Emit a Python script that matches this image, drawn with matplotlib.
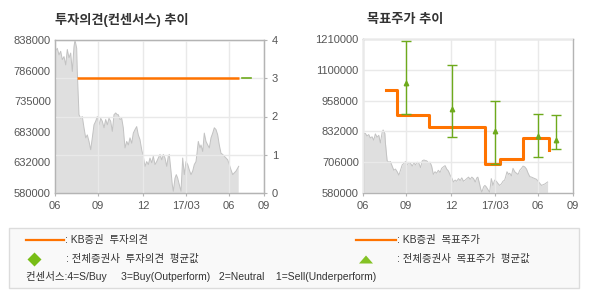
import numpy as np
import matplotlib
matplotlib.use("Agg")
import matplotlib.pyplot as plt
from matplotlib import patches

plt.rcParams["font.family"] = ["Liberation Sans", "Noto Sans CJK KR", "DejaVu Sans"]

# x axis is an index over the trading period (06/2016 .. 09/2017)
x_tick_pos = [0, 43, 88, 131, 174, 209]
x_tick_labels = ["06", "09", "12", "17/03", "06", "09"]

# share price (KRW)
price_x = [0, 2.3, 4, 5.7, 7.3, 9, 10.7, 12.3, 14, 15.7, 17.3, 19, 20, 21.7, 22.3,
           24, 25.7, 27.3, 29, 30.7, 32.3, 34, 35.7, 37.3, 39, 40.7, 42.3, 44, 45.7,
           47.3, 49, 50.7, 52.3, 54, 55.7, 57.3, 59, 60.7, 62.3, 63.3, 65, 66.7, 68.3,
           70, 71.7, 73.3, 75, 76.7, 78.3, 80, 81.7, 83.3, 85, 86.7, 88.3, 90, 91.7,
           93.3, 95, 96.7, 98.3, 100, 101.7, 103.3, 105, 106.7, 108.3, 110, 111.7,
           113.3, 114.3, 116, 117.3, 118.3, 120, 121.3, 122.7, 124.3, 126, 127.7,
           129.3, 131, 132.7, 134.3, 136, 137.7, 139.3, 141, 142, 143.3, 145, 146,
           147.7, 149.3, 151, 152.7, 154.3, 156, 157.7, 159.3, 161, 162.7, 164.3, 166,
           167.7, 169.3, 171, 172.7, 174.3, 176, 177.7, 179.3, 181, 182.7, 183.7]
price_y = [819000, 824000, 813000, 819000, 805000, 810000, 796000, 822000, 808000,
           816000, 785000, 827000, 838000, 824000, 785000, 712000, 706000, 709000,
           690000, 673000, 678000, 667000, 653000, 673000, 695000, 701000, 709000,
           695000, 706000, 701000, 690000, 704000, 695000, 706000, 701000, 684000,
           712000, 715000, 712000, 712000, 704000, 706000, 690000, 656000, 667000,
           661000, 673000, 664000, 681000, 687000, 692000, 678000, 670000, 653000,
           642000, 625000, 633000, 628000, 639000, 631000, 642000, 628000, 633000,
           639000, 645000, 636000, 645000, 639000, 625000, 642000, 645000, 617000,
           594000, 583000, 605000, 611000, 605000, 594000, 583000, 639000, 611000,
           633000, 628000, 619000, 611000, 617000, 628000, 633000, 647000, 667000,
           656000, 661000, 650000, 681000, 667000, 661000, 656000, 673000, 681000,
           690000, 687000, 678000, 661000, 647000, 645000, 642000, 639000, 636000,
           628000, 619000, 611000, 614000, 617000, 622000, 625000]

# KB opinion (consensus scale 1..4)
opinion_x = [22, 184]
opinion_y = [3, 3]
avg_opinion_x = [187, 196]
avg_opinion_y = [3, 3]

# KB target price
target_x = [22.7, 34, 65.4, 121.7, 136.7, 159.4, 185]
target_y = [1000000, 900000, 850000, 700000, 720000, 805000, 755000]

# all brokers target price: mean / high / low
avg_x = [43, 88.4, 131, 174, 192]
avg_mean = [1030000, 923000, 833000, 812000, 796000]
avg_high = [1200000, 1102000, 955000, 904000, 900000]
avg_low = [902000, 808000, 700000, 726000, 758000]

left_ticks = [580000, 632000, 683000, 735000, 786000, 838000]
right_ticks = [580000, 706000, 832000, 958000, 1084000, 1210000]
right_tick_labels = ["580000", "706000", "832000", "958000", "1100000", "1210000"]

ORANGE = "#ff7300"
GREEN = "#6eaa1c"
FILL = "#dfdfdf"
PLINE = "#c2c2c2"
GRID = "#e9e9e9"
SPINE = "#b4b4b4"
TXT = "#555555"


def style_axes(ax):
    for s in ax.spines.values():
        s.set_color(SPINE)
        s.set_linewidth(1.0)
    ax.tick_params(colors=SPINE, labelcolor=TXT, labelsize=8, length=2.5, width=0.8)
    ax.set_xlim(0, 209)
    ax.set_xticks(x_tick_pos)
    ax.set_xticklabels(x_tick_labels)
    ax.tick_params(axis="x", pad=3)


def draw_price(ax):
    ax.fill_between(price_x, price_y, 0, color=FILL, lw=0, zorder=1)
    ax.plot(price_x, price_y, color=PLINE, lw=0.7, zorder=1.2)


fig = plt.figure(figsize=(5.9, 3.0), dpi=100)

# ---- left chart: opinion trend
ax1 = fig.add_axes([55 / 590, 1 - 193 / 300, 209 / 590, 153 / 300])
draw_price(ax1)
style_axes(ax1)
ax1.set_ylim(580000, 838000)
ax1.set_yticks(left_ticks)
ax1.set_yticklabels([str(v) for v in left_ticks])
ax1.tick_params(axis="y", length=0, pad=3)
ax1.set_axisbelow(False)
ax1.grid(axis="x", color=GRID, lw=1.0)

ax1r = ax1.twinx()
ax1r.set_ylim(0, 4)
ax1r.set_yticks([0, 1, 2, 3, 4])
for s in ax1r.spines.values():
    s.set_color(SPINE)
ax1r.tick_params(colors=SPINE, labelcolor=TXT, labelsize=8, length=2.5, width=0.8, pad=3)
ax1r.grid(axis="y", color=GRID, lw=1.0)
ax1r.plot(opinion_x, opinion_y, color=ORANGE, lw=1.8, solid_capstyle="butt", zorder=3)
ax1r.plot(avg_opinion_x, avg_opinion_y, color=GREEN, lw=1.2, zorder=3)

# ---- right chart: target price trend
ax2 = fig.add_axes([363 / 590, 1 - 193 / 300, 210 / 590, 154 / 300])
draw_price(ax2)
style_axes(ax2)
ax2.set_ylim(580000, 1210000)
ax2.set_yticks(right_ticks)
ax2.set_yticklabels(right_tick_labels)
ax2.tick_params(axis="y", length=0, pad=3)
ax2.set_axisbelow(False)
ax2.grid(color=GRID, lw=1.0)
ax2.plot(target_x, target_y, drawstyle="steps-post", color=ORANGE, lw=2.2, zorder=3)
err = [np.array(avg_mean) - np.array(avg_low), np.array(avg_high) - np.array(avg_mean)]
ax2.errorbar(avg_x, avg_mean, yerr=err, fmt="^", color=GREEN, ms=3.2, elinewidth=1.0,
             capsize=3.3, capthick=1.0, zorder=4)

# ---- overlay in pixel coordinates for titles and legend box
ov = fig.add_axes([0, 0, 1, 1], zorder=-1)
ov.set_xlim(0, 590)
ov.set_ylim(300, 0)
ov.axis("off")

ov.text(55, 20, "투자의견(컨센서스) 추이", fontsize=9.5, fontweight="bold", color="#333333",
        va="center", ha="left")
ov.text(367, 20, "목표주가 추이", fontsize=9.5, fontweight="bold", color="#333333",
        va="center", ha="left")

ov.add_patch(patches.Rectangle((9, 228), 570, 60, facecolor="#f9f9f9",
                               edgecolor="#dcdcdc", lw=1.0))
ov.plot([26, 64], [239.5, 239.5], color=ORANGE, lw=1.6)
ov.plot([356, 396], [239.5, 239.5], color=ORANGE, lw=1.6)
ov.plot([34], [259], marker="D", ms=7.2, color="#78bd16", mec="none")
ov.add_patch(patches.Polygon([[359, 263.5], [373, 263.5], [366, 255.5]],
                             closed=True, color="#84c225", lw=0))

LEG = "#333333"
ov.text(65, 240, ": KB증권  투자의견", fontsize=7.5, color=LEG, va="center")
ov.text(66, 259, ": 전체증권사  투자의견  평균값", fontsize=7.5, color=LEG, va="center")
ov.text(397, 240, ": KB증권  목표주가", fontsize=7.5, color=LEG, va="center")
ov.text(397, 259, ": 전체증권사  목표주가  평균값", fontsize=7.5, color=LEG, va="center")
ov.text(26, 277, "컨센서스:4=S/Buy     3=Buy(Outperform)   2=Neutral    1=Sell(Underperform)",
        fontsize=7.5, color=LEG, va="center")

fig.savefig("out.png", dpi=100)
